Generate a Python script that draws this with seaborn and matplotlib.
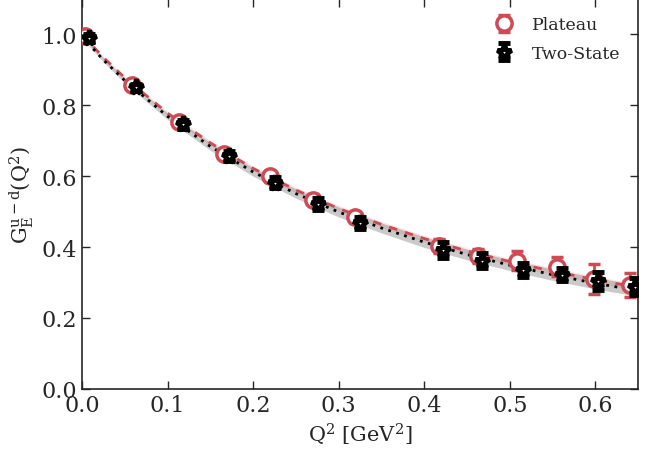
import numpy as np
import pandas as pd
import seaborn as sns
import matplotlib
matplotlib.use("Agg")
import matplotlib.pyplot as plt

# -----------------------------------------------------
# Data
# -----------------------------------------------------
q2_plateau = [0.004, 0.058, 0.113, 0.166, 0.220, 0.270, 0.319, 0.417, 0.463, 0.508, 0.555, 0.599, 0.640]
ge_plateau = [0.995, 0.858, 0.752, 0.662, 0.600, 0.534, 0.484, 0.403, 0.375, 0.362, 0.345, 0.310, 0.292]
err_plateau = [0.008, 0.009, 0.010, 0.012, 0.015, 0.015, 0.015, 0.020, 0.020, 0.026, 0.026, 0.042, 0.034]

q2_two = [0.008, 0.063, 0.118, 0.172, 0.225, 0.276, 0.325, 0.422, 0.468, 0.515, 0.561, 0.603, 0.646]
ge_two = [0.990, 0.851, 0.746, 0.658, 0.582, 0.521, 0.468, 0.391, 0.362, 0.336, 0.322, 0.305, 0.288]
err_two = [0.010, 0.010, 0.012, 0.014, 0.015, 0.017, 0.017, 0.022, 0.022, 0.020, 0.018, 0.026, 0.024]

# fit curves
q2_fit = [0.0, 0.025, 0.05, 0.1, 0.15, 0.2, 0.25, 0.3, 0.35, 0.4, 0.45, 0.5, 0.55, 0.6, 0.65]
fit_plateau = [1.000, 0.935, 0.878, 0.778, 0.694, 0.622, 0.561, 0.509, 0.464, 0.424, 0.389, 0.359, 0.332, 0.308, 0.286]
fit_two = [0.994, 0.928, 0.870, 0.769, 0.684, 0.612, 0.551, 0.499, 0.454, 0.414, 0.379, 0.349, 0.322, 0.298, 0.277]
band_half = [0.004, 0.006, 0.007, 0.009, 0.011, 0.012, 0.013, 0.014, 0.014, 0.015, 0.015, 0.015, 0.016, 0.016, 0.016]

red = "#cc4b55"

sns.set_style("ticks")
plt.rcParams["font.family"] = ["DejaVu Serif"]
plt.rcParams["mathtext.fontset"] = "dejavuserif"
plt.rcParams["xtick.direction"] = "in"
plt.rcParams["ytick.direction"] = "in"
plt.rcParams["xtick.top"] = True
plt.rcParams["ytick.right"] = True

fig = plt.figure(figsize=(6.64, 4.56), dpi=100)
ax = fig.add_axes([0.1235, 0.145, 0.8375, 0.855])

fit_df = pd.DataFrame({"q2": q2_fit, "plateau": fit_plateau, "two": fit_two})
lo = np.array(fit_two) - np.array(band_half)
hi = np.array(fit_two) + np.array(band_half)
ax.fill_between(q2_fit, lo, hi, color="#a0a0a0", alpha=0.55, lw=0, zorder=1)
ax.fill_between(q2_fit, np.array(fit_plateau) - 0.6 * np.array(band_half),
                np.array(fit_plateau) + 0.6 * np.array(band_half),
                color=red, alpha=0.15, lw=0, zorder=1)
sns.lineplot(data=fit_df, x="q2", y="plateau", ax=ax, color=red, ls=(0, (3, 3)), lw=2, zorder=2)
sns.lineplot(data=fit_df, x="q2", y="two", ax=ax, color="black", ls=(0, (1, 2)), lw=2, zorder=2)

ax.errorbar(q2_plateau, ge_plateau, yerr=err_plateau, fmt="o", ms=11, mfc="white", mec=red, mew=2.5,
            ecolor=red, elinewidth=2, capsize=4, capthick=2, label="Plateau", zorder=3)
ax.errorbar(q2_two, ge_two, yerr=err_two, fmt="*", ms=11, mfc="white", mec="black", mew=3.5,
            ecolor="black", elinewidth=2, capsize=4, capthick=2, label="Two-State", zorder=4)

ax.set_xlim(0, 0.65)
ax.set_ylim(0, 1.1)
ax.set_xticks([0.0, 0.1, 0.2, 0.3, 0.4, 0.5, 0.6])
ax.set_yticks([0.0, 0.2, 0.4, 0.6, 0.8, 1.0])
ax.tick_params(labelsize=16, length=6, width=1)
ax.set_xlabel(r"$\mathrm{Q^2\ [GeV^2]}$", fontsize=15)
ax.set_ylabel(r"$\mathrm{G_E^{u-d}(Q^2)}$", fontsize=15)
for s in ax.spines.values():
    s.set_linewidth(1.2)

ax.legend(loc="upper right", frameon=False, fontsize=12.5, numpoints=1, handletextpad=0.8,
          handlelength=1.6, labelspacing=0.65, borderaxespad=0.6)

fig.savefig("out.png", dpi=100)
